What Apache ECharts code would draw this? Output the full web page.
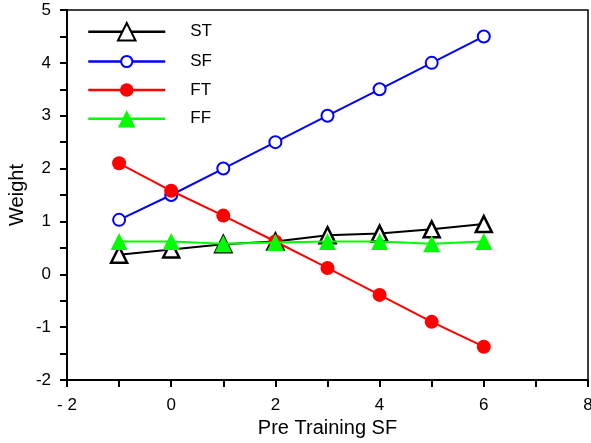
<!DOCTYPE html>
<html><head><meta charset="utf-8">
<script src="https://cdn.jsdelivr.net/npm/echarts@6/dist/echarts.min.js"></script>
<style>html,body{margin:0;padding:0;background:#fff}#c{width:591px;height:443px}</style>
</head><body><div id="c"></div>
<script>
const xValues = [-1, 0, 1, 2, 3, 4, 5, 6];
const stValues = [0.37, 0.47, 0.57, 0.62, 0.74, 0.77, 0.85, 0.95];
const sfValues = [1.03, 1.5, 2.0, 2.5, 3.0, 3.5, 4.0, 4.5];
const ftValues = [2.1, 1.58, 1.11, 0.62, 0.12, -0.39, -0.9, -1.37];
const ffValues = [0.62, 0.62, 0.58, 0.6, 0.62, 0.62, 0.58, 0.62];
const seriesNames = ['ST', 'SF', 'FT', 'FF'];

const pair = vals => xValues.map((x, i) => [x, vals[i]]);
const font = 'Liberation Sans, Arial, sans-serif';
// one legend per entry so each marker can have its own size
const legendTops = [22, 53, 81.5, 110];
const legendIconHeights = [22, 14, 17, 22];
const legends = seriesNames.map((n, i) => ({
  orient: 'vertical', left: 87, top: legendTops[i],
  padding: 0, itemWidth: 77, itemHeight: legendIconHeights[i],
  lineStyle: { width: 2.5 },
  textStyle: { fontFamily: font, fontSize: 17, color: '#000', padding: [0, 0, 0, 20] },
  data: [n]
}));

const chart = echarts.init(document.getElementById('c'));
chart.setOption({
  animation: false,
  backgroundColor: '#fff',
  grid: { left: 67, right: 3, top: 10, bottom: 63, show: true, borderColor: '#000', borderWidth: 1.5,
    outerBoundsMode: 'none', containLabel: false },
  legend: legends,
  xAxis: {
    type: 'value', min: -2, max: 8, interval: 1,
    name: 'Pre Training SF', nameLocation: 'middle', nameGap: 38, nameMoveOverlap: false,
    nameTextStyle: { fontFamily: font, fontSize: 20, color: '#000' },
    axisLine: { onZero: false, lineStyle: { color: '#000', width: 2 } },
    axisTick: { inside: false, length: 7, lineStyle: { color: '#000', width: 2 } },
    splitLine: { show: false },
    axisLabel: { fontFamily: font, fontSize: 17, color: '#000', margin: 17,
      formatter: v => (Math.abs(v % 2) === 1 ? '' : (v < 0 ? '- ' + Math.abs(v) : String(v))) }
  },
  yAxis: {
    type: 'value', min: -2, max: 5, interval: 0.5,
    name: 'Weight', nameLocation: 'middle', nameGap: 40, nameRotate: 90, nameMoveOverlap: false,
    nameTextStyle: { fontFamily: font, fontSize: 20, color: '#000' },
    axisLine: { show: true, onZero: false, lineStyle: { color: '#000', width: 2 } },
    axisTick: { show: true, length: 7, lineStyle: { color: '#000', width: 2 } },
    splitLine: { show: false },
    axisLabel: { fontFamily: font, fontSize: 17, color: '#000', margin: 16,
      formatter: v => (Number.isInteger(v) ? String(v) : '') }
  },
  series: [
    { name: 'ST', type: 'line', data: pair(stValues), symbol: 'triangle', symbolSize: 16,
      lineStyle: { color: '#000', width: 2 },
      itemStyle: { color: '#fff', borderColor: '#000', borderWidth: 2.5 }, z: 3 },
    { name: 'SF', type: 'line', data: pair(sfValues), symbol: 'circle', symbolSize: 12,
      lineStyle: { color: '#0000ff', width: 2 },
      itemStyle: { color: '#fff', borderColor: '#0000ff', borderWidth: 2 }, z: 4 },
    { name: 'FT', type: 'line', data: pair(ftValues), symbol: 'circle', symbolSize: 14,
      lineStyle: { color: '#ff0000', width: 2 },
      itemStyle: { color: '#ff0000', borderColor: '#ff0000', borderWidth: 0 }, z: 5 },
    { name: 'FF', type: 'line', data: pair(ffValues), symbol: 'triangle', symbolSize: 17,
      lineStyle: { color: '#00ff00', width: 2 },
      itemStyle: { color: '#00ff00', borderColor: '#00ff00', borderWidth: 0 }, z: 6 }
  ]
});
</script></body></html>
